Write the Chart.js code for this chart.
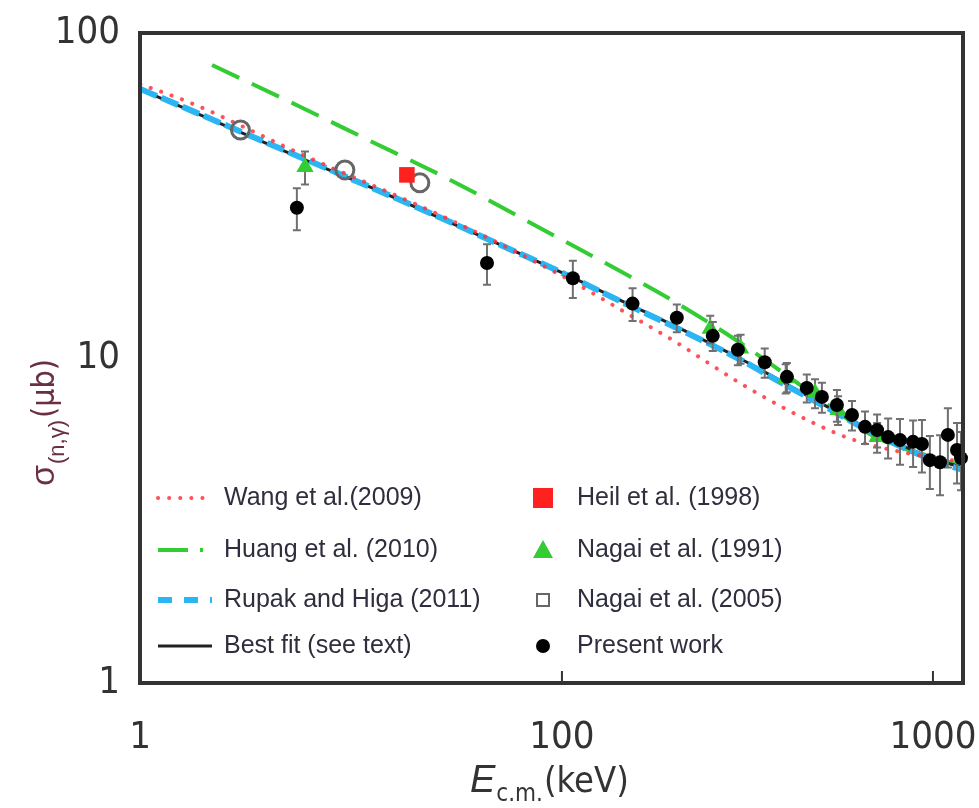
<!DOCTYPE html>
<html>
<head>
<meta charset="utf-8">
<script src="https://cdn.jsdelivr.net/npm/chart.js@4/dist/chart.umd.min.js"></script>
<style>
  html, body { margin: 0; padding: 0; background: #fff; }
  #wrap { width: 979px; height: 808px; }
</style>
</head>
<body>
<div id="wrap"><canvas id="sigmaChart"></canvas></div>
<script>
// axis ticks
const xTickValues = [7.29, 100, 1000];
const xTickLabels = ['1', '100', '1000'];
const yTickValues = [1, 10, 100];
const yTickLabels = ['1', '10', '100'];

// theory curves (E in keV, sigma in microbarn)
const wangE = [7.3, 10, 20, 50, 100, 150, 200, 300, 400, 500, 600, 800, 1000, 1205];
const wangS = [69.6, 60.9, 42.2, 26.6, 17.9, 13.7, 11.3, 8.41, 6.98, 6.15, 5.64, 5.17, 4.94, 4.79];

const huangE = [11.4, 20, 30, 50, 100, 150, 200, 300, 500, 700, 1000, 1205];
const huangS = [79.7, 58.8, 46.9, 35.3, 23.1, 18.0, 14.96, 11.2, 7.43, 5.71, 4.95, 4.65];

const rupakE = [7.3, 10, 20, 30, 50, 70, 100, 150, 200, 300, 400, 500, 700, 1000, 1205];
const rupakS = [67.3, 57.8, 41.2, 33.8, 26.2, 22.0, 18.3, 14.6, 12.5, 9.93, 8.26, 7.19, 5.82, 4.85, 4.52];

const fitE = [7.3, 10, 20, 30, 50, 70, 100, 150, 200, 300, 400, 500, 700, 1000, 1205];
const fitS = [67.0, 57.6, 41.0, 33.8, 26.1, 22.0, 18.3, 14.7, 12.6, 10.0, 8.35, 7.25, 5.9, 4.9, 4.6];

// measurements
const heilE = [38.2];
const heilS = [36.6];

const nagai91E = [20.3, 251, 303, 401, 481, 555, 707];
const nagai91S = [38.7, 12.3, 10.7, 8.67, 7.80, 6.92, 5.71];
const nagai91Err = [4.5, 1.2, 1.1, 0.9, 0.8, 0.7, 0.6];

const nagai05E = [13.6, 26.0, 41.4];
const nagai05S = [50.3, 37.9, 34.6];

const presentE = [19.3, 62.8, 107, 155, 204, 255, 298, 352, 404, 457, 502, 551, 605, 656, 707, 757, 815, 884, 934, 981, 1045, 1097, 1161, 1190];
const presentS = [29.0, 19.6, 17.6, 14.7, 13.3, 11.7, 10.6, 9.7, 8.75, 8.09, 7.59, 7.17, 6.68, 6.14, 6.00, 5.71, 5.59, 5.52, 5.44, 4.85, 4.78, 5.80, 5.21, 4.92];
const presentErr = [4.3, 2.8, 2.3, 1.7, 1.3, 1.2, 1.1, 1.0, 0.9, 0.8, 0.8, 0.8, 0.7, 0.7, 0.7, 0.8, 0.9, 0.9, 1.0, 0.9, 1.0, 1.2, 1.1, 1.0];

const pts = (xs, ys) => xs.map((x, i) => ({ x: x, y: ys[i] }));

const RED = '#ff2020';
const GREEN = '#33cc33';
const BLUE = '#2bb5f2';
const TXT = '#2e2e3e';
const TICKFONT = "'Liberation Sans Narrow', 'DejaVu Sans Condensed', 'Liberation Sans', sans-serif";
const LEGFONT = "'Liberation Sans', Arial, sans-serif";

const decor = {
    id: 'decor',
    beforeDatasetDraw(chart, args) {
        const ds = chart.data.datasets[args.index];
        if (!ds.errors) return;
        const ctx = chart.ctx, xs = chart.scales.x, ys = chart.scales.y;
        ctx.save();
        ctx.strokeStyle = '#707070';
        ctx.lineWidth = 2;
        ds.data.forEach((p, i) => {
            const px = xs.getPixelForValue(p.x);
            const top = ys.getPixelForValue(p.y + ds.errors[i]);
            const bot = ys.getPixelForValue(p.y - ds.errors[i]);
            ctx.beginPath();
            ctx.moveTo(px, top); ctx.lineTo(px, bot);
            ctx.moveTo(px - 4, top); ctx.lineTo(px + 4, top);
            ctx.moveTo(px - 4, bot); ctx.lineTo(px + 4, bot);
            ctx.stroke();
        });
        ctx.restore();
    },
    afterDraw(chart) {
        const ctx = chart.ctx;
        const a = chart.chartArea;
        const xs = chart.scales.x;
        ctx.save();

        // frame
        ctx.strokeStyle = '#333';
        ctx.lineWidth = 4;
        ctx.strokeRect(a.left, a.top, a.right - a.left, a.bottom - a.top);

        // inward ticks on the bottom axis
        ctx.lineWidth = 2;
        [100, 1000].forEach(v => {
            const px = xs.getPixelForValue(v);
            ctx.beginPath();
            ctx.moveTo(px, a.bottom);
            ctx.lineTo(px, a.bottom - 12);
            ctx.stroke();
        });

        // x title: E_c.m.(keV)
        ctx.fillStyle = '#333';
        ctx.textBaseline = 'alphabetic';
        ctx.textAlign = 'left';
        let tx = 470;
        const ty = 792;
        ctx.font = "italic 38px " + LEGFONT;
        ctx.fillText('E', tx, ty);
        tx += ctx.measureText('E').width + 1;
        ctx.font = "24px " + TICKFONT;
        ctx.fillText('c.m.', tx, ty + 9);
        tx += ctx.measureText('c.m.').width + 1;
        ctx.font = "36px " + TICKFONT;
        ctx.fillText('(keV)', tx, ty);

        // y title: sigma_(n,gamma)(mub), rotated
        ctx.save();
        ctx.translate(54, 486);
        ctx.rotate(-Math.PI / 2);
        ctx.fillStyle = '#6a2f42';
        let ly = 0;
        ctx.font = "34px " + LEGFONT;
        ctx.fillText('σ', ly, 0);
        ly += ctx.measureText('σ').width + 1;
        ctx.font = "22px " + LEGFONT;
        ctx.fillText('(n,γ)', ly, 10);
        ly += ctx.measureText('(n,γ)').width + 2;
        ctx.font = "32px " + TICKFONT;
        ctx.fillText('(μb)', ly, 0);
        ctx.restore();

        // legend
        const byLabel = {};
        chart.data.datasets.forEach(d => { byLabel[d.label] = d; });
        const rowsY = [498, 550, 600, 646];
        const left = ['Wang et al.(2009)', 'Huang et al. (2010)', 'Rupak and Higa (2011)', 'Best fit (see text)'];
        const right = ['Heil et al. (1998)', 'Nagai et al. (1991)', 'Nagai et al. (2005)', 'Present work'];
        ctx.font = "25px " + LEGFONT;
        ctx.textBaseline = 'middle';
        left.forEach((lab, i) => {
            const d = byLabel[lab];
            const y = rowsY[i];
            ctx.save();
            ctx.strokeStyle = d.borderColor;
            ctx.lineWidth = d.borderWidth;
            ctx.lineCap = d.borderCapStyle || 'butt';
            ctx.setLineDash(d.legendDash || d.borderDash || []);
            ctx.beginPath();
            ctx.moveTo(158, y);
            ctx.lineTo(212, y);
            ctx.stroke();
            ctx.restore();
            ctx.fillStyle = TXT;
            ctx.fillText(lab, 224, y);
        });
        right.forEach((lab, i) => {
            const d = byLabel[lab];
            const y = rowsY[i];
            const cx = 543;
            ctx.save();
            ctx.fillStyle = d.backgroundColor;
            ctx.strokeStyle = d.borderColor;
            ctx.lineWidth = 2;
            if (lab === 'Heil et al. (1998)') {
                ctx.fillRect(cx - 10, y - 10, 20, 20);
            } else if (lab === 'Nagai et al. (1991)') {
                ctx.beginPath();
                ctx.moveTo(cx, y - 10); ctx.lineTo(cx + 10, y + 8); ctx.lineTo(cx - 10, y + 8);
                ctx.closePath(); ctx.fill();
            } else if (lab === 'Nagai et al. (2005)') {
                ctx.strokeRect(cx - 6, y - 6, 12, 12);
            } else {
                ctx.beginPath(); ctx.arc(cx, y, 7, 0, Math.PI * 2); ctx.fill();
            }
            ctx.restore();
            ctx.fillStyle = TXT;
            ctx.fillText(lab, 577, y);
        });

        ctx.restore();
    }
};

const ctx = document.getElementById('sigmaChart').getContext('2d');
const chart = new Chart(ctx, {
    type: 'scatter',
    data: {
        datasets: [
            {
                label: 'Present work',
                data: pts(presentE, presentS),
                errors: presentErr,
                backgroundColor: '#000',
                borderColor: '#000',
                pointRadius: 7,
                pointBorderWidth: 0,
                clip: false,
                order: 0
            },
            {
                label: 'Nagai et al. (1991)',
                data: pts(nagai91E, nagai91S),
                errors: nagai91Err,
                backgroundColor: GREEN,
                borderColor: GREEN,
                pointStyle: 'triangle',
                pointRadius: 10,
                pointBorderWidth: 0,
                order: 1
            },
            {
                label: 'Heil et al. (1998)',
                data: pts(heilE, heilS),
                backgroundColor: RED,
                borderColor: RED,
                pointStyle: 'rect',
                pointRadius: 11,
                pointBorderWidth: 0,
                order: 2
            },
            {
                label: 'Nagai et al. (2005)',
                data: pts(nagai05E, nagai05S),
                backgroundColor: 'rgba(255,255,255,0)',
                borderColor: '#666',
                pointRadius: 9,
                pointBorderWidth: 3,
                order: 3
            },
            {
                label: 'Wang et al.(2009)',
                type: 'line',
                data: pts(wangE, wangS),
                borderColor: 'rgba(255,50,60,0.85)',
                borderWidth: 4,
                borderCapStyle: 'round',
                borderDash: [0.1, 11],
                pointRadius: 0,
                cubicInterpolationMode: 'monotone',
                order: 4
            },
            {
                label: 'Rupak and Higa (2011)',
                type: 'line',
                data: pts(rupakE, rupakS),
                borderColor: BLUE,
                borderWidth: 6,
                borderDash: [18, 5],
                legendDash: [14, 12],
                pointRadius: 0,
                cubicInterpolationMode: 'monotone',
                order: 5
            },
            {
                label: 'Best fit (see text)',
                type: 'line',
                data: pts(fitE, fitS),
                borderColor: '#222',
                borderWidth: 3,
                pointRadius: 0,
                cubicInterpolationMode: 'monotone',
                order: 6
            },
            {
                label: 'Huang et al. (2010)',
                type: 'line',
                data: pts(huangE, huangS),
                borderColor: GREEN,
                borderWidth: 4,
                borderDash: [30, 14],
                legendDash: [30, 12, 3, 12],
                pointRadius: 0,
                cubicInterpolationMode: 'monotone',
                order: 7
            }
        ]
    },
    options: {
        responsive: true,
        maintainAspectRatio: false,
        animation: false,
        layout: { padding: { top: 33, right: 16, left: 0, bottom: 0 } },
        scales: {
            x: {
                type: 'logarithmic',
                min: 7.29,
                max: 1205,
                grid: { display: false },
                border: { display: false },
                afterBuildTicks: scale => { scale.ticks = xTickValues.map(v => ({ value: v })); },
                afterFit: scale => {
                    scale.height = 125;
                    scale.paddingLeft = 0;
                    scale.paddingRight = 0;
                },
                ticks: {
                    color: '#333',
                    padding: 24,
                    maxRotation: 0,
                    font: { family: TICKFONT, size: 38 },
                    callback: (v, i) => xTickLabels[i]
                }
            },
            y: {
                type: 'logarithmic',
                min: 1,
                max: 100,
                grid: { display: false },
                border: { display: false },
                afterBuildTicks: scale => { scale.ticks = yTickValues.map(v => ({ value: v })); },
                afterFit: scale => {
                    scale.width = 140;
                    scale.paddingTop = 0;
                    scale.paddingBottom = 0;
                },
                ticks: {
                    color: '#333',
                    padding: 12,
                    font: { family: TICKFONT, size: 38 },
                    callback: (v, i) => yTickLabels[i]
                }
            }
        },
        plugins: {
            legend: { display: false },
            tooltip: { enabled: false }
        }
    },
    plugins: [decor]
});
</script>
</body>
</html>
